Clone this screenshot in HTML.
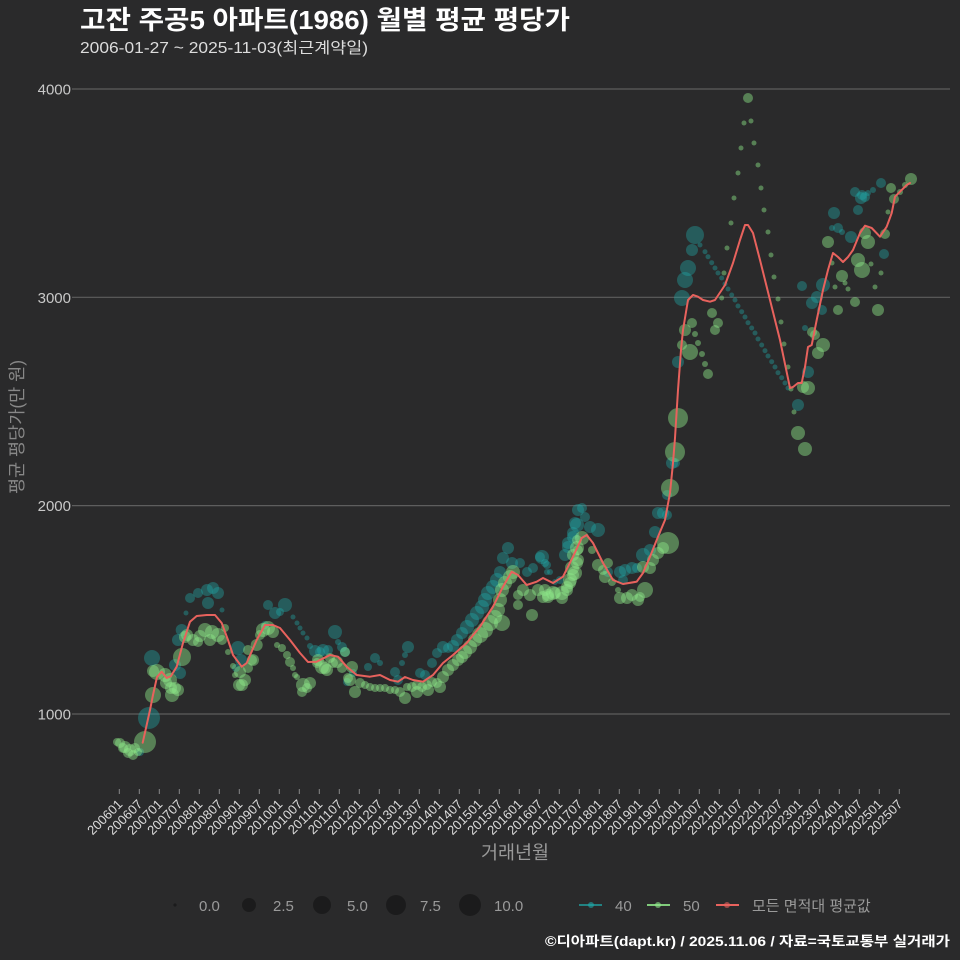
<!DOCTYPE html>
<html><head><meta charset="utf-8"><style>
html,body{margin:0;padding:0;background:#2a2a2b;}
svg{display:block;font-family:"Liberation Sans","Noto Sans CJK KR",sans-serif;}
.t{fill:#20a8a8;fill-opacity:.4}
.g{fill:#8fe88a;fill-opacity:.45}
.xl{font-size:13px;fill:#dcdcdc;text-anchor:end}
.yl{font-size:15px;fill:#c8c8c8;text-anchor:end}
.lg{font-size:15px;fill:#9a9a9a}
</style></head><body>
<svg width="960" height="960" viewBox="0 0 960 960" xmlns="http://www.w3.org/2000/svg">
<rect width="960" height="960" fill="#2a2a2b"/>
<text x="80" y="29" font-size="26" font-weight="bold" fill="#ffffff" textLength="490" lengthAdjust="spacingAndGlyphs">고잔 주공5 아파트(1986) 월별 평균 평당가</text>
<text x="80" y="53" font-size="15.5" fill="#dddddd" textLength="288" lengthAdjust="spacingAndGlyphs">2006-01-27 ~ 2025-11-03(최근계약일)</text>

<g stroke="#5e5e5e" stroke-width="1.2">
<line x1="72" y1="89" x2="950" y2="89"/>
<line x1="72" y1="297.3" x2="950" y2="297.3"/>
<line x1="72" y1="505.6" x2="950" y2="505.6"/>
<line x1="72" y1="714" x2="950" y2="714"/>
</g>
<text class="yl" x="71" y="94.5">4000</text>
<text class="yl" x="71" y="302.8">3000</text>
<text class="yl" x="71" y="511.1">2000</text>
<text class="yl" x="71" y="719.5">1000</text>
<text transform="translate(23,427) rotate(-90)" text-anchor="middle" font-size="17.5" fill="#888">평균 평당가(만 원)</text>

<g stroke="#8a8a8a" stroke-width="1">
<line x1="119.3" y1="789" x2="119.3" y2="794"/><line x1="139.3" y1="789" x2="139.3" y2="794"/><line x1="159.3" y1="789" x2="159.3" y2="794"/><line x1="179.3" y1="789" x2="179.3" y2="794"/><line x1="199.3" y1="789" x2="199.3" y2="794"/><line x1="219.3" y1="789" x2="219.3" y2="794"/><line x1="239.3" y1="789" x2="239.3" y2="794"/><line x1="259.3" y1="789" x2="259.3" y2="794"/><line x1="279.3" y1="789" x2="279.3" y2="794"/><line x1="299.3" y1="789" x2="299.3" y2="794"/><line x1="319.3" y1="789" x2="319.3" y2="794"/><line x1="339.3" y1="789" x2="339.3" y2="794"/><line x1="359.3" y1="789" x2="359.3" y2="794"/><line x1="379.3" y1="789" x2="379.3" y2="794"/><line x1="399.3" y1="789" x2="399.3" y2="794"/><line x1="419.3" y1="789" x2="419.3" y2="794"/><line x1="439.3" y1="789" x2="439.3" y2="794"/><line x1="459.3" y1="789" x2="459.3" y2="794"/><line x1="479.3" y1="789" x2="479.3" y2="794"/><line x1="499.3" y1="789" x2="499.3" y2="794"/><line x1="519.3" y1="789" x2="519.3" y2="794"/><line x1="539.3" y1="789" x2="539.3" y2="794"/><line x1="559.3" y1="789" x2="559.3" y2="794"/><line x1="579.3" y1="789" x2="579.3" y2="794"/><line x1="599.3" y1="789" x2="599.3" y2="794"/><line x1="619.3" y1="789" x2="619.3" y2="794"/><line x1="639.3" y1="789" x2="639.3" y2="794"/><line x1="659.3" y1="789" x2="659.3" y2="794"/><line x1="679.3" y1="789" x2="679.3" y2="794"/><line x1="699.3" y1="789" x2="699.3" y2="794"/><line x1="719.3" y1="789" x2="719.3" y2="794"/><line x1="739.3" y1="789" x2="739.3" y2="794"/><line x1="759.3" y1="789" x2="759.3" y2="794"/><line x1="779.3" y1="789" x2="779.3" y2="794"/><line x1="799.3" y1="789" x2="799.3" y2="794"/><line x1="819.3" y1="789" x2="819.3" y2="794"/><line x1="839.3" y1="789" x2="839.3" y2="794"/><line x1="859.3" y1="789" x2="859.3" y2="794"/><line x1="879.3" y1="789" x2="879.3" y2="794"/><line x1="899.3" y1="789" x2="899.3" y2="794"/>
</g>
<g>
<text class="xl" transform="translate(123.3,805) rotate(-45)">200601</text>
<text class="xl" transform="translate(143.3,805) rotate(-45)">200607</text>
<text class="xl" transform="translate(163.3,805) rotate(-45)">200701</text>
<text class="xl" transform="translate(183.3,805) rotate(-45)">200707</text>
<text class="xl" transform="translate(203.3,805) rotate(-45)">200801</text>
<text class="xl" transform="translate(223.3,805) rotate(-45)">200807</text>
<text class="xl" transform="translate(243.3,805) rotate(-45)">200901</text>
<text class="xl" transform="translate(263.3,805) rotate(-45)">200907</text>
<text class="xl" transform="translate(283.3,805) rotate(-45)">201001</text>
<text class="xl" transform="translate(303.3,805) rotate(-45)">201007</text>
<text class="xl" transform="translate(323.3,805) rotate(-45)">201101</text>
<text class="xl" transform="translate(343.3,805) rotate(-45)">201107</text>
<text class="xl" transform="translate(363.3,805) rotate(-45)">201201</text>
<text class="xl" transform="translate(383.3,805) rotate(-45)">201207</text>
<text class="xl" transform="translate(403.3,805) rotate(-45)">201301</text>
<text class="xl" transform="translate(423.3,805) rotate(-45)">201307</text>
<text class="xl" transform="translate(443.3,805) rotate(-45)">201401</text>
<text class="xl" transform="translate(463.3,805) rotate(-45)">201407</text>
<text class="xl" transform="translate(483.3,805) rotate(-45)">201501</text>
<text class="xl" transform="translate(503.3,805) rotate(-45)">201507</text>
<text class="xl" transform="translate(523.3,805) rotate(-45)">201601</text>
<text class="xl" transform="translate(543.3,805) rotate(-45)">201607</text>
<text class="xl" transform="translate(563.3,805) rotate(-45)">201701</text>
<text class="xl" transform="translate(583.3,805) rotate(-45)">201707</text>
<text class="xl" transform="translate(603.3,805) rotate(-45)">201801</text>
<text class="xl" transform="translate(623.3,805) rotate(-45)">201807</text>
<text class="xl" transform="translate(643.3,805) rotate(-45)">201901</text>
<text class="xl" transform="translate(663.3,805) rotate(-45)">201907</text>
<text class="xl" transform="translate(683.3,805) rotate(-45)">202001</text>
<text class="xl" transform="translate(703.3,805) rotate(-45)">202007</text>
<text class="xl" transform="translate(723.3,805) rotate(-45)">202101</text>
<text class="xl" transform="translate(743.3,805) rotate(-45)">202107</text>
<text class="xl" transform="translate(763.3,805) rotate(-45)">202201</text>
<text class="xl" transform="translate(783.3,805) rotate(-45)">202207</text>
<text class="xl" transform="translate(803.3,805) rotate(-45)">202301</text>
<text class="xl" transform="translate(823.3,805) rotate(-45)">202307</text>
<text class="xl" transform="translate(843.3,805) rotate(-45)">202401</text>
<text class="xl" transform="translate(863.3,805) rotate(-45)">202407</text>
<text class="xl" transform="translate(883.3,805) rotate(-45)">202501</text>
<text class="xl" transform="translate(903.3,805) rotate(-45)">202507</text>
</g>
<text x="515" y="859" text-anchor="middle" font-size="18.5" fill="#999">거래년월</text>

<!-- teal (40) -->
<g class="t">
<circle cx="140" cy="752" r="4"/><circle cx="149" cy="718" r="11"/><circle cx="152" cy="658" r="8"/><circle cx="175" cy="665" r="6"/><circle cx="180" cy="673" r="6"/><circle cx="181.7" cy="630" r="6"/><circle cx="178" cy="640" r="6"/><circle cx="186" cy="613" r="2.5"/>
<circle cx="190" cy="598" r="5"/><circle cx="198" cy="593" r="5"/><circle cx="207" cy="590" r="6"/><circle cx="213" cy="588" r="6"/><circle cx="218" cy="593" r="6"/><circle cx="208" cy="603" r="6"/><circle cx="222" cy="610" r="2.5"/>
<circle cx="238" cy="648" r="7"/><circle cx="241" cy="660" r="6"/><circle cx="236" cy="668" r="4"/>
<circle cx="268" cy="605" r="5"/><circle cx="275" cy="613" r="6"/><circle cx="285" cy="605" r="7"/><circle cx="280" cy="612" r="4"/><circle cx="265" cy="625" r="4"/>
<circle cx="293" cy="617" r="2.5"/><circle cx="297" cy="623" r="2.5"/><circle cx="300" cy="628" r="2.5"/><circle cx="303" cy="633" r="2.5"/><circle cx="307" cy="638" r="2.5"/><circle cx="310" cy="646" r="3"/>
<circle cx="315" cy="651" r="6"/><circle cx="320" cy="652" r="5"/><circle cx="323" cy="650" r="6"/><circle cx="328" cy="650" r="5"/><circle cx="335" cy="632" r="7"/><circle cx="338" cy="642" r="3"/><circle cx="342" cy="647" r="5"/><circle cx="345" cy="652" r="5"/><circle cx="347" cy="682" r="4"/><circle cx="353" cy="673" r="4"/>
<circle cx="368" cy="667" r="4"/><circle cx="375" cy="658" r="5"/><circle cx="380" cy="663" r="3"/><circle cx="395" cy="672" r="5"/><circle cx="398" cy="680" r="5"/><circle cx="402" cy="663" r="3"/><circle cx="405" cy="655" r="3"/><circle cx="408" cy="647" r="6"/><circle cx="420" cy="673" r="5"/><circle cx="425" cy="675" r="5"/>
<circle cx="432" cy="663" r="5"/><circle cx="437" cy="653" r="5"/><circle cx="443" cy="647" r="6"/><circle cx="448" cy="648" r="5"/><circle cx="453" cy="646" r="6"/><circle cx="457" cy="640" r="6"/><circle cx="462" cy="633" r="6"/><circle cx="467" cy="627" r="7"/><circle cx="472" cy="620" r="7"/><circle cx="477" cy="613" r="7"/><circle cx="482" cy="607" r="7"/><circle cx="485" cy="600" r="7"/><circle cx="488" cy="593" r="7"/><circle cx="493" cy="587" r="7"/><circle cx="497" cy="580" r="7"/><circle cx="500" cy="572" r="6"/><circle cx="503" cy="558" r="6"/><circle cx="508" cy="548" r="6"/><circle cx="512" cy="563" r="6"/><circle cx="520" cy="563" r="5"/><circle cx="527" cy="572" r="5"/><circle cx="533" cy="568" r="5"/><circle cx="542" cy="557" r="7"/><circle cx="547" cy="565" r="4"/><circle cx="550" cy="572" r="3"/><circle cx="555" cy="582" r="3"/><circle cx="560" cy="580" r="4"/><circle cx="565" cy="555" r="6"/><circle cx="568" cy="543" r="6"/><circle cx="573" cy="533" r="6"/><circle cx="575" cy="523" r="6"/><circle cx="578" cy="510" r="6"/>
<circle cx="582" cy="508" r="5"/><circle cx="585" cy="517" r="5"/><circle cx="577" cy="525" r="7"/><circle cx="573" cy="537" r="6"/><circle cx="598" cy="530" r="7"/><circle cx="590" cy="527" r="6"/><circle cx="568" cy="547" r="6"/><circle cx="540" cy="557" r="5"/><circle cx="545" cy="563" r="4"/><circle cx="547" cy="572" r="3"/>
<circle cx="608" cy="572" r="5"/><circle cx="620" cy="572" r="6"/><circle cx="625" cy="570" r="6"/><circle cx="632" cy="568" r="6"/><circle cx="637" cy="568" r="5"/><circle cx="623" cy="580" r="5"/><circle cx="643" cy="555" r="7"/><circle cx="650" cy="550" r="6"/><circle cx="655" cy="532" r="6"/><circle cx="658" cy="513" r="6"/><circle cx="663" cy="513" r="6"/><circle cx="667" cy="515" r="5"/><circle cx="672" cy="463" r="6"/><circle cx="667" cy="495" r="5"/><circle cx="675" cy="463" r="5"/>
<circle cx="678" cy="362" r="6"/><circle cx="682" cy="298" r="8"/><circle cx="685" cy="280" r="8"/><circle cx="688" cy="268" r="8"/><circle cx="692" cy="250" r="6"/><circle cx="695" cy="235" r="9"/>
<circle cx="700" cy="245" r="2.5"/><circle cx="705" cy="251.7" r="2.5"/><circle cx="708" cy="256.7" r="2.5"/><circle cx="711.7" cy="262.7" r="2.5"/><circle cx="715" cy="268" r="2.5"/><circle cx="718" cy="273" r="2.5"/><circle cx="721.7" cy="278" r="2.5"/><circle cx="725" cy="284" r="2.5"/><circle cx="728" cy="289" r="2.5"/><circle cx="731.7" cy="295" r="2.5"/><circle cx="735" cy="300" r="2.5"/><circle cx="738" cy="306" r="2.5"/><circle cx="741.7" cy="311.7" r="2.5"/><circle cx="745" cy="317" r="2.5"/><circle cx="748" cy="322.7" r="2.5"/><circle cx="751.7" cy="328" r="2.5"/><circle cx="755" cy="333" r="2.5"/><circle cx="758" cy="339" r="2.5"/><circle cx="761.7" cy="345" r="2.5"/><circle cx="765" cy="350.7" r="2.5"/><circle cx="768" cy="356" r="2.5"/><circle cx="771.7" cy="361.7" r="2.5"/><circle cx="775" cy="367" r="2.5"/><circle cx="778" cy="372.7" r="2.5"/><circle cx="781.7" cy="377.7" r="2.5"/><circle cx="785" cy="383" r="2.5"/><circle cx="788" cy="388" r="2.5"/>
<circle cx="798" cy="405" r="6"/><circle cx="808" cy="372" r="6"/><circle cx="802" cy="286" r="5"/><circle cx="805" cy="328" r="3"/><circle cx="812" cy="303" r="6"/><circle cx="817" cy="297" r="6"/><circle cx="822" cy="310" r="5"/><circle cx="823" cy="285" r="7"/><circle cx="834" cy="213" r="6"/><circle cx="832" cy="228" r="3"/><circle cx="838" cy="228" r="5"/><circle cx="842" cy="232" r="3"/><circle cx="851" cy="237" r="6"/><circle cx="858" cy="210" r="5"/><circle cx="855" cy="192" r="5"/><circle cx="862" cy="195" r="5"/><circle cx="865" cy="197" r="5"/><circle cx="861" cy="198" r="6"/><circle cx="868" cy="193" r="3"/><circle cx="873" cy="190" r="3"/><circle cx="881" cy="183" r="5"/><circle cx="884" cy="254" r="5"/>
</g>

<!-- green (50) -->
<g class="g">
<circle cx="120" cy="743" r="5"/><circle cx="125" cy="747" r="6"/><circle cx="130" cy="750" r="6"/><circle cx="135" cy="748" r="5"/><circle cx="128" cy="753" r="5"/><circle cx="133" cy="755" r="5"/><circle cx="145" cy="742" r="11"/><circle cx="117" cy="742" r="4"/><circle cx="123" cy="748" r="5"/><circle cx="138" cy="752" r="4"/>
<circle cx="153" cy="695" r="8"/><circle cx="157" cy="672" r="8"/><circle cx="165" cy="675" r="7"/><circle cx="170" cy="680" r="7"/><circle cx="175" cy="688" r="6"/><circle cx="172" cy="695" r="7"/><circle cx="178" cy="690" r="6"/><circle cx="182" cy="657" r="9"/><circle cx="185" cy="637" r="6"/><circle cx="153" cy="671" r="6"/><circle cx="166" cy="683" r="6"/><circle cx="171" cy="688" r="6"/>
<circle cx="187" cy="635" r="6"/><circle cx="193" cy="640" r="6"/><circle cx="200" cy="636" r="6"/><circle cx="205" cy="630" r="7"/><circle cx="212" cy="632" r="7"/><circle cx="218" cy="635" r="7"/><circle cx="222" cy="640" r="5"/><circle cx="210" cy="640" r="6"/><circle cx="198" cy="642" r="5"/><circle cx="225" cy="628" r="4"/>
<circle cx="228" cy="652" r="3"/><circle cx="233" cy="666" r="3"/><circle cx="235" cy="675" r="3"/><circle cx="240" cy="672" r="6"/><circle cx="245" cy="680" r="6"/><circle cx="239" cy="685" r="6"/><circle cx="248" cy="668" r="5"/><circle cx="252" cy="660" r="5"/><circle cx="248" cy="650" r="5"/><circle cx="256.7" cy="645" r="6"/><circle cx="253" cy="660" r="6"/><circle cx="242" cy="685" r="6"/>
<circle cx="263" cy="630" r="7"/><circle cx="268" cy="628" r="7"/><circle cx="273" cy="632" r="6"/><circle cx="260" cy="635" r="5"/>
<circle cx="277" cy="645" r="3"/><circle cx="282" cy="648" r="4"/><circle cx="287" cy="655" r="4"/><circle cx="290" cy="662" r="5"/><circle cx="293" cy="668" r="3"/><circle cx="295" cy="675" r="3"/><circle cx="297" cy="677" r="3"/>
<circle cx="303" cy="685" r="7"/><circle cx="310" cy="683" r="6"/><circle cx="302" cy="692" r="5"/><circle cx="307" cy="688" r="5"/>
<circle cx="317" cy="663" r="5"/><circle cx="322" cy="667" r="7"/><circle cx="327" cy="670" r="6"/><circle cx="330" cy="658" r="5"/><circle cx="337" cy="662" r="6"/><circle cx="342" cy="668" r="5"/><circle cx="345" cy="652" r="5"/><circle cx="352" cy="667" r="6"/><circle cx="350" cy="680" r="6"/><circle cx="355" cy="692" r="6"/><circle cx="318" cy="660" r="6"/><circle cx="325" cy="668" r="6"/><circle cx="333" cy="663" r="5"/><circle cx="348" cy="678" r="5"/>
<circle cx="360" cy="683" r="5"/><circle cx="365" cy="685" r="4"/><circle cx="370" cy="687" r="4"/><circle cx="375" cy="688" r="4"/><circle cx="380" cy="688" r="4"/><circle cx="385" cy="688" r="4"/><circle cx="390" cy="690" r="4"/><circle cx="395" cy="690" r="4"/><circle cx="400" cy="692" r="5"/><circle cx="405" cy="698" r="6"/><circle cx="407" cy="687" r="4"/><circle cx="412" cy="687" r="5"/><circle cx="417" cy="685" r="5"/><circle cx="422" cy="687" r="5"/><circle cx="427" cy="685" r="5"/><circle cx="432" cy="682" r="5"/><circle cx="437" cy="683" r="5"/><circle cx="440" cy="687" r="6"/><circle cx="428" cy="690" r="6"/><circle cx="417" cy="692" r="6"/>
<circle cx="443" cy="677" r="6"/><circle cx="448" cy="670" r="6"/><circle cx="453" cy="665" r="6"/><circle cx="458" cy="660" r="6"/><circle cx="462" cy="657" r="6"/><circle cx="465" cy="652" r="7"/><circle cx="470" cy="647" r="7"/><circle cx="475" cy="640" r="7"/><circle cx="480" cy="635" r="8"/><circle cx="485" cy="630" r="8"/><circle cx="490" cy="623" r="8"/><circle cx="495" cy="617" r="7"/><circle cx="498" cy="610" r="7"/><circle cx="500" cy="600" r="7"/><circle cx="502" cy="590" r="7"/><circle cx="505" cy="583" r="7"/><circle cx="510" cy="577" r="7"/><circle cx="513" cy="572" r="7"/><circle cx="502" cy="623" r="8"/>
<circle cx="518" cy="595" r="5"/><circle cx="523" cy="590" r="6"/><circle cx="518" cy="605" r="5"/><circle cx="532" cy="615" r="6"/><circle cx="530" cy="595" r="6"/><circle cx="538" cy="590" r="6"/><circle cx="543" cy="597" r="6"/><circle cx="548" cy="595" r="6"/><circle cx="555" cy="593" r="6"/><circle cx="562" cy="598" r="6"/><circle cx="567" cy="590" r="6"/><circle cx="570" cy="583" r="6"/><circle cx="573" cy="575" r="6"/><circle cx="577" cy="563" r="6"/><circle cx="578" cy="550" r="5"/><circle cx="577" cy="540" r="5"/>
<circle cx="582" cy="538" r="7"/><circle cx="577" cy="548" r="7"/><circle cx="573" cy="555" r="6"/><circle cx="578" cy="560" r="6"/><circle cx="572" cy="568" r="7"/><circle cx="575" cy="573" r="7"/><circle cx="570" cy="580" r="7"/><circle cx="567" cy="587" r="6"/><circle cx="562" cy="593" r="7"/><circle cx="553" cy="593" r="7"/><circle cx="545" cy="590" r="6"/><circle cx="548" cy="597" r="6"/><circle cx="592" cy="550" r="4"/><circle cx="598" cy="565" r="6"/><circle cx="603" cy="570" r="5"/><circle cx="608" cy="563" r="5"/><circle cx="605" cy="577" r="6"/><circle cx="612" cy="582" r="4"/>
<circle cx="620" cy="598" r="6"/><circle cx="627" cy="598" r="6"/><circle cx="632" cy="595" r="6"/><circle cx="638" cy="600" r="6"/><circle cx="645" cy="590" r="8"/><circle cx="618" cy="590" r="3"/><circle cx="640" cy="597" r="5"/>
<circle cx="643" cy="567" r="6"/><circle cx="650" cy="568" r="6"/><circle cx="653" cy="560" r="6"/><circle cx="658" cy="553" r="6"/><circle cx="663" cy="548" r="6"/><circle cx="668" cy="543" r="11"/>
<circle cx="670" cy="488" r="9"/><circle cx="675" cy="452" r="10"/><circle cx="678" cy="418" r="10"/>
<circle cx="712" cy="313" r="5"/><circle cx="718" cy="323" r="5"/><circle cx="715" cy="330" r="5"/><circle cx="692" cy="323" r="5"/><circle cx="685" cy="330" r="6"/><circle cx="695" cy="334" r="3"/><circle cx="682" cy="345" r="5"/><circle cx="690" cy="352" r="8"/><circle cx="698" cy="343" r="3"/><circle cx="702" cy="354" r="3"/><circle cx="705" cy="364" r="3"/><circle cx="708" cy="374" r="5"/><circle cx="721.7" cy="298" r="2.5"/><circle cx="724" cy="273" r="2.5"/>
<circle cx="727" cy="248" r="2.5"/><circle cx="731" cy="223" r="2.5"/><circle cx="734" cy="198" r="2.5"/><circle cx="738" cy="173" r="2.5"/><circle cx="741" cy="148" r="2.5"/><circle cx="744" cy="123" r="2.5"/><circle cx="748" cy="98" r="5"/><circle cx="751" cy="121" r="2.5"/><circle cx="754" cy="143" r="2.5"/><circle cx="758" cy="165" r="2.5"/><circle cx="761" cy="188" r="2.5"/><circle cx="764" cy="210" r="2.5"/><circle cx="768" cy="232" r="2.5"/><circle cx="771" cy="255" r="2.5"/><circle cx="774" cy="277" r="2.5"/><circle cx="778" cy="299" r="2.5"/><circle cx="781" cy="322" r="2.5"/><circle cx="784" cy="344" r="2.5"/><circle cx="788" cy="367" r="2.5"/><circle cx="791" cy="389" r="2.5"/><circle cx="794" cy="412" r="2.5"/>
<circle cx="798" cy="433" r="7"/><circle cx="805" cy="449" r="7"/><circle cx="803" cy="387" r="6"/><circle cx="808" cy="388" r="7"/><circle cx="812" cy="332" r="5"/><circle cx="815" cy="335" r="5"/><circle cx="823" cy="345" r="7"/><circle cx="818" cy="353" r="6"/>
<circle cx="838" cy="310" r="5"/><circle cx="855" cy="302" r="5"/><circle cx="878" cy="310" r="6"/><circle cx="848" cy="289" r="2.5"/><circle cx="875" cy="287" r="2.5"/><circle cx="835" cy="287" r="2.5"/><circle cx="845" cy="283" r="2.5"/><circle cx="881" cy="273" r="2.5"/><circle cx="871" cy="264" r="2.5"/><circle cx="832" cy="263" r="2.5"/><circle cx="842" cy="276" r="6"/><circle cx="862" cy="270" r="8"/><circle cx="858" cy="260" r="7"/><circle cx="828" cy="242" r="6"/><circle cx="865" cy="233" r="6"/><circle cx="868" cy="242" r="7"/><circle cx="885" cy="234" r="5"/><circle cx="888" cy="212" r="2.5"/><circle cx="891" cy="188" r="5"/><circle cx="894" cy="199" r="5"/><circle cx="911" cy="179" r="6"/><circle cx="900" cy="192" r="3"/><circle cx="905" cy="185" r="3"/>
</g>

<polyline fill="none" stroke="#e8625d" stroke-width="2" stroke-linejoin="round" stroke-linecap="round" points="142.7,742.7 146,728 150,710 153,695 157,677 161.7,671.7 166.7,678 171,676 176.7,666.7 183,643 190,621.7 196.7,616 206.7,615 215,615 221.7,623 228,640 233,655 241.7,666.7 246.7,663 256.7,640 265,625 273,625 280,628 290,640 300,653 308,662 316.7,661.7 330,655 338,656.7 346.7,666.7 356.7,675 370,676.7 380,675 390,680 398,681.7 405,677 413,680 423,681.7 433,675 443,663 453,655 466.7,643 480,626.7 493,606.7 503,586.7 511.7,571.7 518,575 526.7,585 536.7,581.7 543,578 553,583 563,576.7 573,556.7 581.7,538 586.7,535 593,543 603,563 613,580 623,584 636.7,581.7 643,573 650,556.7 658,536.7 665,520 670,493 673,463 675,438 678,390 681,350 683,330 688,300 693,295 698,296.7 703,300 710,301.7 715,300 721.7,290 725,285 733,263 740,240 745,225 748,225 753,233 760,260 770,300 780,340 790,388 793,387 798,383 801.7,383 805,367 808,347 811.7,345 816.7,320 823,290 828,270 833,253 838,257 843,262 848,257 853,250 860,233 865,225.7 871.7,228 880,236.7 886.7,226.7 891.7,213 895,196.7 900,191.7 906.7,185 910,183"/>

<!-- legend -->
<g fill="#000" fill-opacity=".35">
<circle cx="175" cy="905" r="1.6"/><circle cx="249" cy="905" r="7"/><circle cx="322" cy="905" r="9"/><circle cx="396" cy="905" r="10"/><circle cx="470" cy="905" r="11"/>
</g>
<text class="lg" x="199" y="911">0.0</text>
<text class="lg" x="273" y="911">2.5</text>
<text class="lg" x="347" y="911">5.0</text>
<text class="lg" x="420" y="911">7.5</text>
<text class="lg" x="494" y="911">10.0</text>
<line x1="579" y1="905" x2="602" y2="905" stroke="#20a8a8" stroke-opacity=".7" stroke-width="2"/><circle cx="591" cy="905" r="3" fill="#20a8a8" fill-opacity=".6"/>
<text class="lg" x="615" y="911">40</text>
<line x1="647" y1="905" x2="670" y2="905" stroke="#8fe88a" stroke-opacity=".85" stroke-width="2"/><circle cx="658" cy="905" r="3" fill="#8fe88a" fill-opacity=".6"/>
<text class="lg" x="683" y="911">50</text>
<line x1="716" y1="905" x2="739" y2="905" stroke="#e8625d" stroke-width="2"/><circle cx="727" cy="905" r="3" fill="#e8625d" fill-opacity=".6"/>
<text class="lg" x="752" y="911">모든 면적대 평균값</text>

<text x="950" y="946" text-anchor="end" font-size="13.5" font-weight="bold" fill="#ffffff" textLength="405" lengthAdjust="spacingAndGlyphs">©디아파트(dapt.kr) / 2025.11.06 / 자료=국토교통부 실거래가</text>
</svg>
</body></html>
